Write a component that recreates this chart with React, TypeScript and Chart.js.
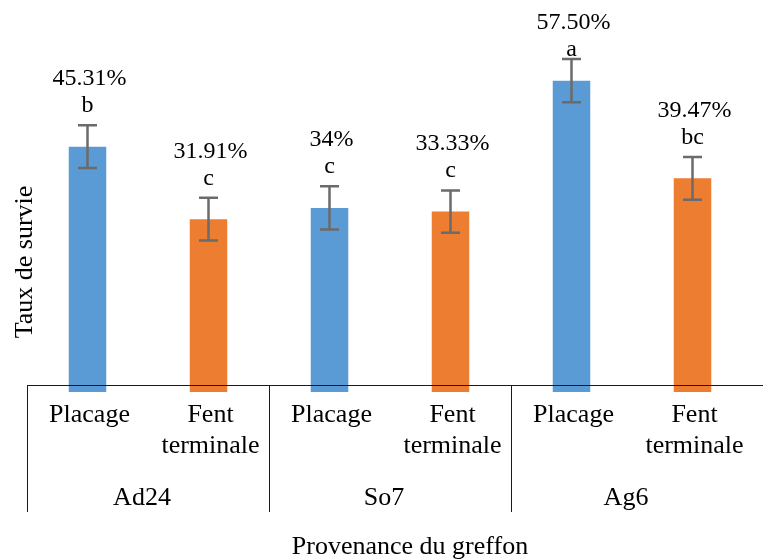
import React, { useEffect, useRef } from "react";
import { Chart, registerables } from "chart.js";

Chart.register(...registerables);

// ---- data ----
const groups = ["Ad24", "So7", "Ag6"];
const tickLabels = [
  ["Placage"],
  ["Fent", "terminale"],
  ["Placage"],
  ["Fent", "terminale"],
  ["Placage"],
  ["Fent", "terminale"],
];
const survie = [45.31, 31.91, 34, 33.33, 57.5, 39.47];
const erreur = [3.95, 3.95, 4.0, 3.9, 4.0, 3.95];
const valueLabels = ["45.31%", "31.91%", "34%", "33.33%", "57.50%", "39.47%"];
const letters = ["b", "c", "c", "c", "a", "bc"];
const barColors = ["#5B9BD5", "#ED7D31", "#5B9BD5", "#ED7D31", "#5B9BD5", "#ED7D31"];
const yTitle = "Taux de survie";
const xTitle = "Provenance du greffon";

const FONT = '"Liberation Serif", "Times New Roman", serif';

const overlayPlugin = {
  id: "overlay",
  afterDatasetsDraw(chart: any) {
    const ctx = chart.ctx as CanvasRenderingContext2D;
    const meta = chart.getDatasetMeta(0);
    const y = chart.scales.y;
    const area = chart.chartArea;
    ctx.save();
    // error bars
    ctx.strokeStyle = "#6b6b6b";
    ctx.lineWidth = 2.5;
    meta.data.forEach((bar: any, i: number) => {
      const x = bar.x;
      const yTop = y.getPixelForValue(survie[i] + erreur[i]);
      const yBot = y.getPixelForValue(survie[i] - erreur[i]);
      ctx.beginPath();
      ctx.moveTo(x, yTop);
      ctx.lineTo(x, yBot);
      ctx.moveTo(x - 9.5, yTop);
      ctx.lineTo(x + 9.5, yTop);
      ctx.moveTo(x - 9.5, yBot);
      ctx.lineTo(x + 9.5, yBot);
      ctx.stroke();
    });
    // data labels
    ctx.fillStyle = "#000";
    ctx.textAlign = "center";
    ctx.textBaseline = "alphabetic";
    ctx.font = `24px ${FONT}`;
    meta.data.forEach((bar: any, i: number) => {
      const x = bar.x;
      const capTop = y.getPixelForValue(survie[i] + erreur[i]);
      let pctBase = capTop - 40;
      if (pctBase < area.top + 16) pctBase = area.top + 16;
      ctx.fillText(valueLabels[i], x + 2, pctBase);
      ctx.fillText(letters[i], x, pctBase + 27);
    });
    ctx.restore();
  },
  afterDraw(chart: any) {
    const ctx = chart.ctx as CanvasRenderingContext2D;
    const area = chart.chartArea;
    const xs = chart.scales.x;
    const n = chart.data.labels.length;
    const w = (area.right - area.left) / n;
    const axisY = area.bottom - 7;
    ctx.save();
    // axis line
    ctx.strokeStyle = "#1a1a1a";
    ctx.lineWidth = 1;
    ctx.beginPath();
    ctx.moveTo(area.left, Math.round(axisY) + 0.5);
    ctx.lineTo(chart.width, Math.round(axisY) + 0.5);
    ctx.stroke();
    // group separators
    const per = n / groups.length;
    for (let g = 0; g < groups.length; g++) {
      const sx = Math.round(area.left + g * per * w) + 0.5;
      ctx.beginPath();
      ctx.moveTo(sx, axisY);
      ctx.lineTo(sx, axisY + 127);
      ctx.stroke();
    }
    ctx.fillStyle = "#000";
    ctx.textAlign = "center";
    ctx.textBaseline = "alphabetic";
    ctx.font = `26px ${FONT}`;
    // category labels
    (chart.data.labels as string[][]).forEach((lines, i) => {
      const x = xs.getPixelForValue(i);
      lines.forEach((line, k) => {
        ctx.fillText(line, x + 2, axisY + 36.7 + k * 31.6);
      });
    });
    // group labels
    groups.forEach((g, gi) => {
      const x0 = xs.getPixelForValue(gi * per);
      const x1 = xs.getPixelForValue(gi * per + per - 1);
      ctx.fillText(g, (x0 + x1) / 2 - 6, axisY + 120);
    });
    // x title
    ctx.fillText(xTitle, (area.left + area.right) / 2 + 20, axisY + 169);
    // y title
    ctx.translate(32, 262);
    ctx.rotate(-Math.PI / 2);
    ctx.fillText(yTitle, 0, 0);
    ctx.restore();
  },
};

export default function App() {
  const ref = useRef<HTMLCanvasElement>(null);
  useEffect(() => {
    const chart = new Chart(ref.current as HTMLCanvasElement, {
      type: "bar",
      data: {
        labels: tickLabels as any,
        datasets: [
          {
            data: survie,
            backgroundColor: barColors,
            barPercentage: 0.31,
            categoryPercentage: 1,
          },
        ],
      },
      options: {
        responsive: false,
        animation: false,
        devicePixelRatio: 1,
        layout: { padding: { left: 27, right: 10, top: 13, bottom: 168 } },
        plugins: { legend: { display: false }, tooltip: { enabled: false } },
        scales: {
          x: { display: false },
          y: { display: false, min: 0, max: 70 },
        },
      },
      plugins: [overlayPlugin],
    });
    return () => chart.destroy();
  }, []);
  return (
    <div style={{ position: "fixed", left: 0, top: 0, width: 763, height: 560, background: "#fff" }}>
      <canvas ref={ref} width={763} height={560} style={{ display: "block" }} />
    </div>
  );
}
